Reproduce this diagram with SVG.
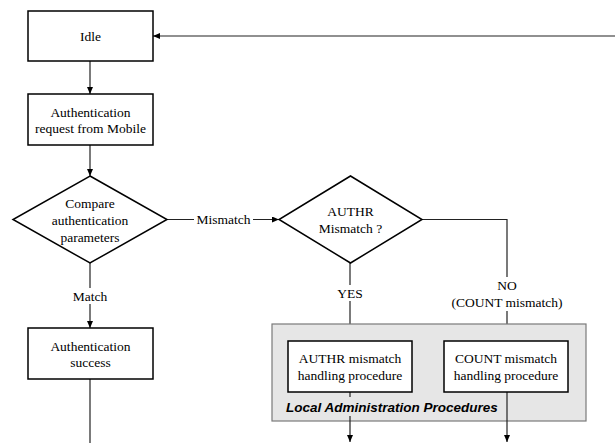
<svg xmlns="http://www.w3.org/2000/svg" width="615" height="443" viewBox="0 0 615 443">
<style>
.box{fill:#fff;stroke:#000;stroke-width:1.5}
.dia{fill:#fff;stroke:#000;stroke-width:1.5}
.t{font-family:'Liberation Serif',serif;font-size:13.5px;fill:#000;text-anchor:middle}
.c{fill:none;stroke:#222;stroke-width:1.2}
.lb{fill:#fff}
</style>
<defs>
<marker id="ah" markerUnits="userSpaceOnUse" markerWidth="7" markerHeight="6" refX="7" refY="3" orient="auto">
<path d="M0,0 L7,3 L0,6 z" fill="#000"/>
</marker>
</defs>
<rect width="615" height="443" fill="#fff"/>
<g id="connectors">
<path class="c" d="M615,36 H153" marker-end="url(#ah)" stroke="#555"/>
<path class="c" d="M90,61 V94" marker-end="url(#ah)"/>
<path class="c" d="M90,145 V176" marker-end="url(#ah)"/>
<path class="c" d="M167,219.5 H279" marker-end="url(#ah)"/>
<path class="c" d="M90,263 V328" marker-end="url(#ah)"/>
<path class="c" d="M90,379 V443"/>
<path class="c" d="M350,263 V341" marker-end="url(#ah)"/>
<path class="c" d="M422,219.5 H507 V341" marker-end="url(#ah)"/>
<rect class="lb" x="194" y="211" width="59" height="17"/>
<text class="t" x="223.5" y="224" font-family="Liberation Serif, serif">Mismatch</text>
<rect class="lb" x="71" y="288" width="38" height="16"/>
<text class="t" x="90" y="300.5" font-family="Liberation Serif, serif">Match</text>
<rect class="lb" x="335" y="285" width="30" height="16"/>
<text class="t" x="350" y="297.5" font-family="Liberation Serif, serif">YES</text>
<rect class="lb" x="447" y="277" width="120" height="34"/>
<text class="t" x="507" y="289.5" font-family="Liberation Serif, serif">NO</text>
<text class="t" x="507" y="306.5" font-family="Liberation Serif, serif">(COUNT mismatch)</text>
</g>
<g id="local-admin">
<rect x="272" y="324" width="314" height="97" fill="#e6e6e6" stroke="#7a7a7a" stroke-width="1.2"/>
</g>
<g id="connectors-out">
<path class="c" d="M350,392 V442" marker-end="url(#ah)"/>
<path class="c" d="M507,392 V442" marker-end="url(#ah)"/>
<rect x="282" y="397" width="221" height="19" fill="#e6e6e6"/>
<text x="286" y="411.5" font-family="Liberation Sans, Arial, sans-serif" font-size="13.5px" font-weight="bold" font-style="italic" fill="#000">Local Administration Procedures</text>
</g>
<g id="idle">
<rect class="box" x="28" y="11" width="125" height="50"/>
<text class="t" x="90.5" y="40.5" font-family="Liberation Serif, serif">Idle</text>
</g>
<g id="auth-request">
<rect class="box" x="28" y="94" width="125" height="51"/>
<text class="t" x="90.5" y="116.5" font-family="Liberation Serif, serif">Authentication</text>
<text class="t" x="90.5" y="132.5" font-family="Liberation Serif, serif">request from Mobile</text>
</g>
<g id="compare">
<polygon class="dia" points="90,176 167,219.5 90,263 13,219.5"/>
<text class="t" x="90" y="207.5" font-family="Liberation Serif, serif">Compare</text>
<text class="t" x="90" y="224.5" font-family="Liberation Serif, serif">authentication</text>
<text class="t" x="90" y="241.5" font-family="Liberation Serif, serif">parameters</text>
</g>
<g id="authr-decision">
<polygon class="dia" points="350.5,176 422,219.5 350.5,263 279,219.5"/>
<text class="t" x="350.5" y="215.5" font-family="Liberation Serif, serif">AUTHR</text>
<text class="t" x="350.5" y="232.5" font-family="Liberation Serif, serif">Mismatch ?</text>
</g>
<g id="auth-success">
<rect class="box" x="28" y="328" width="125" height="51"/>
<text class="t" x="90.5" y="350.5" font-family="Liberation Serif, serif">Authentication</text>
<text class="t" x="90.5" y="366.5" font-family="Liberation Serif, serif">success</text>
</g>
<g id="authr-handling">
<rect class="box" x="288" y="341" width="124" height="51"/>
<text class="t" x="350" y="362.5" font-family="Liberation Serif, serif">AUTHR mismatch</text>
<text class="t" x="350" y="379.5" font-family="Liberation Serif, serif">handling procedure</text>
</g>
<g id="count-handling">
<rect class="box" x="444" y="341" width="124" height="51"/>
<text class="t" x="506" y="362.5" font-family="Liberation Serif, serif">COUNT mismatch</text>
<text class="t" x="506" y="379.5" font-family="Liberation Serif, serif">handling procedure</text>
</g>
</svg>
